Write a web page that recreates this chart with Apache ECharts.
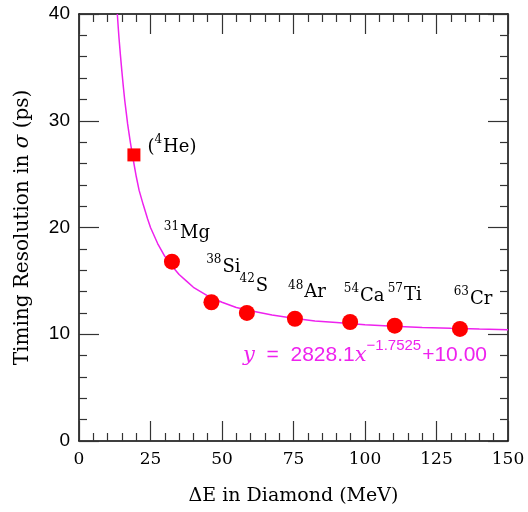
<!DOCTYPE html>
<html><head><meta charset="utf-8">
<script src="https://cdn.jsdelivr.net/npm/echarts@6/dist/echarts.min.js"></script>
<style>html,body{margin:0;padding:0;background:#fff}#c{width:528px;height:512px}</style>
</head><body><div id="c"></div>
<script>
// Data
const heliumPoint = [19.2, 26.8];
const heliumLabel = {mass: '4', element: 'He'};
const isotopes = ['Mg', 'Si', 'S', 'Ar', 'Ca', 'Ti', 'Cr'];
const masses = ['31', '38', '42', '48', '54', '57', '63'];
const deltaE = [32.5, 46.3, 58.7, 75.5, 94.8, 110.4, 133.2];
const sigma = [16.8, 13.0, 12.0, 11.45, 11.15, 10.8, 10.5];
// fitted curve
const fitX = [13.4, 13.7, 14, 14.5, 15, 15.5, 16, 16.5, 17, 17.5, 18, 19, 20, 21, 22.5, 24, 25, 27.5, 30, 32.5, 35, 37.5, 40, 45, 50, 55, 60, 67.5, 75, 82.5, 90, 100, 110, 120, 130, 140, 150];
const fitY = [40.0, 38.8, 37.7, 36.1, 34.6, 33.2, 31.9, 30.8, 29.7, 28.8, 27.9, 26.3, 24.8, 23.5, 22.1, 20.8, 20.0, 18.5, 17.3, 16.4, 15.6, 15.0, 14.4, 13.6, 13.0, 12.5, 12.2, 11.8, 11.5, 11.25, 11.1, 10.9, 10.75, 10.64, 10.56, 10.49, 10.43];
const xTicks = [0, 25, 50, 75, 100, 125, 150];
const yTicks = [0, 10, 20, 30, 40];
const fitText = {coef: '2828.1', exp: '−1.7525', constant: '+10.00'};

const labelOffsets = [[15, -6], [12, -13], [7, -5], [12, -4], [14, -4], [10, -8], [13, -8]];

const serif = 'DejaVu Serif';
const sans = 'Liberation Sans';
const rich = {
  sup: {fontFamily: serif, fontSize: 12, verticalAlign: 'top', lineHeight: 22, padding: [0, 1, 8, 0], color: '#000'},
  m: {fontFamily: serif, fontSize: 18, lineHeight: 22, verticalAlign: 'bottom', color: '#000'}
};

const pts = deltaE.map((x, i) => ({
  value: [x, sigma[i]],
  label: {
    show: true, position: 'top', offset: labelOffsets[i], color: '#000',
    formatter: '{sup|' + masses[i] + '}{m|' + isotopes[i] + '}', rich: rich
  }
}));

function mkAxis(extra) {
  const a = {
    type: 'value', min: 0,
    axisLine: {show: true, onZero: false, lineStyle: {color: '#000', width: 1.5}},
    axisTick: {show: true, inside: true, length: 20, lineStyle: {color: '#333', width: 1.2}},
    minorTick: {show: true, splitNumber: 5, length: 8, lineStyle: {color: '#333', width: 1.2}},
    splitLine: {show: false},
    minorSplitLine: {show: false}
  };
  return Object.assign(a, extra);
}

const chart = echarts.init(document.getElementById('c'), null, {renderer: 'canvas'});
chart.setOption({
  animation: false,
  grid: {left: 79, right: 20, top: 14, bottom: 71},
  xAxis: [
    mkAxis({
      max: 150, interval: 25, position: 'bottom',
      axisLabel: {fontFamily: serif, fontSize: 17, color: '#000', margin: 10,
        formatter: v => xTicks.includes(v) ? String(v) : ''},
      name: 'ΔE in Diamond (MeV)', nameLocation: 'middle', nameGap: 46,
      nameTextStyle: {fontFamily: serif, fontSize: 19, color: '#000'}
    }),
    mkAxis({max: 150, interval: 25, position: 'top', axisLabel: {show: false}})
  ],
  yAxis: [
    mkAxis({
      max: 40, interval: 10, position: 'left',
      axisLabel: {fontFamily: sans, fontSize: 19, color: '#000', margin: 9,
        formatter: v => yTicks.includes(v) ? String(v) : ''},
      name: 'Timing Resolution in {s|σ} (ps)', nameLocation: 'middle', nameGap: 46, nameRotate: 90,
      nameTextStyle: {fontFamily: serif, fontSize: 20, color: '#000',
        rich: {s: {fontFamily: serif, fontStyle: 'italic', fontSize: 20, color: '#000'}}}
    }),
    mkAxis({max: 40, interval: 10, position: 'right', axisLabel: {show: false}})
  ],
  series: [
    {
      type: 'line', data: fitX.map((x, i) => [x, fitY[i]]), smooth: false,
      showSymbol: false, lineStyle: {color: '#ee22ee', width: 1.5}, z: 1, silent: true
    },
    {
      type: 'scatter', data: pts, symbol: 'circle', symbolSize: 16,
      itemStyle: {color: '#ff0000', opacity: 1}, z: 3
    },
    {
      type: 'scatter', symbol: 'rect', symbolSize: 13, itemStyle: {color: '#ff0000', opacity: 1}, z: 3,
      data: [{value: heliumPoint, label: {show: true, position: 'right', offset: [2, -10], color: '#000',
        formatter: '{m|(}{sup|' + heliumLabel.mass + '}{m|' + heliumLabel.element + ')}', rich: rich}}]
    }
  ],
  graphic: [{
    type: 'text', left: 243, top: 338,
    style: {
      rich: {
        i: {fontFamily: 'DejaVu Serif', fontStyle: 'italic', fontSize: 21, fill: '#ee22ee', lineHeight: 28, verticalAlign: 'bottom'},
        t: {fontFamily: sans, fontSize: 21, fill: '#ee22ee', lineHeight: 28, verticalAlign: 'bottom'},
        e: {fontFamily: sans, fontSize: 15, fill: '#ee22ee', lineHeight: 28, verticalAlign: 'top', padding: [0, 1, 12, 0]}
      },
      text: '{i|y}{t|  =  ' + fitText.coef + '}{i|x}{e|' + fitText.exp + '}{t|' + fitText.constant + '}'
    }
  }]
});
</script></body></html>
